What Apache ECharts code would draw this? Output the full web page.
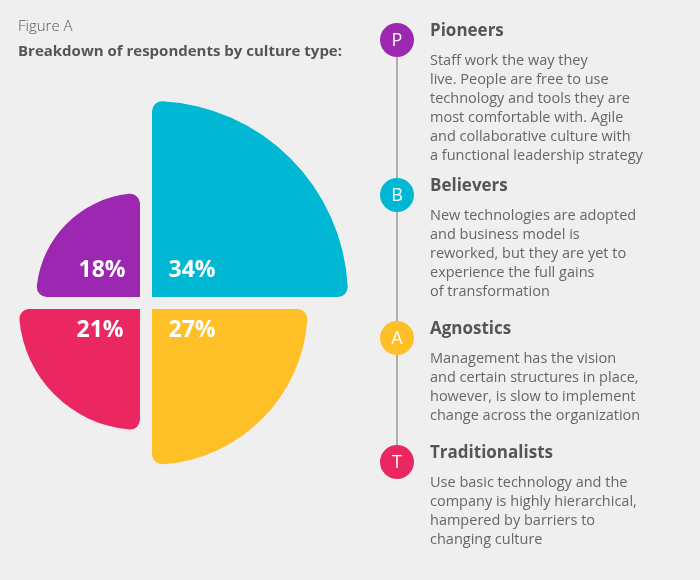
<!DOCTYPE html>
<html><head><meta charset="utf-8">
<script src="https://cdn.jsdelivr.net/npm/echarts@6/dist/echarts.min.js"></script>
<style>html,body{margin:0;background:#efefef}#c{width:700px;height:580px}</style>
</head><body><div id="c"></div>
<script>
const categories = ['Pioneers','Believers','Agnostics','Traditionalists'];
const letters = ['P','B','A','T'];
const values = [34, 27, 21, 18];
const quadColors = ['#00b8d3','#ffbf27','#ea2761','#9c27b0'];
const markerColors = ['#9c27b0','#00b8d3','#ffbf27','#ea2761'];
const descriptions = [
 'Staff work the way they\nlive. People are free to use\ntechnology and tools they are\nmost comfortable with. Agile\nand collaborative culture with\na functional leadership strategy',
 'New technologies are adopted\nand business model is\nreworked, but they are yet to\nexperience the full gains\nof transformation',
 'Management has the vision\nand certain structures in place,\nhowever, is slow to implement\nchange across the organization',
 'Use basic technology and the\ncompany is highly hierarchical,\nhampered by barriers to\nchanging culture'
];
const centers = [[152,297],[152,309],[140,309],[140,297]];
const polar=[],angleAxis=[],radiusAxis=[],series=[];
values.forEach((v,q)=>{
  polar.push({center:centers[q],radius:196});
  angleAxis.push({polarIndex:q,type:'category',data:['a','b','c','d'],startAngle:90,show:false,boundaryGap:true});
  radiusAxis.push({polarIndex:q,type:'value',min:0,max:34,show:false});
  const d=['-','-','-','-']; d[q]=v;
  series.push({type:'bar',coordinateSystem:'polar',polarIndex:q,data:d,barCategoryGap:'0%',barWidth:'100%',
    itemStyle:{color:quadColors[q],borderRadius:10},silent:true});
});
const graphic=[
 {type:'text',left:18,top:19,style:{text:'Figure A',font:'300 15px "Open Sans"',fill:'#555'}},
 {type:'text',left:18,top:44,style:{text:'Breakdown of respondents by culture type:',font:'bold 15px "Open Sans"',fill:'#555'}},
 {type:'line',z:1,shape:{x1:397,y1:40,x2:397,y2:462},style:{stroke:'#999',lineWidth:1.5}}
];
const labelPos=[[192,270],[192,330],[100,330],[102,270]];
values.forEach((v,q)=>{
  graphic.push({type:'text',z:100,x:labelPos[q][0],y:labelPos[q][1],style:{text:v+'%',font:'bold 23px "Open Sans"',fill:'#fff',align:'center',verticalAlign:'middle'}});
});
const tops=[40,195,338,462];
categories.forEach((c,i)=>{
  graphic.push({type:'circle',z:2,shape:{cx:397,cy:tops[i],r:17},style:{fill:markerColors[i]}});
  graphic.push({type:'text',z:3,x:397,y:tops[i]+1,style:{text:letters[i],font:'18px "Open Sans"',fill:'#fff',align:'center',verticalAlign:'middle'}});
  graphic.push({type:'text',x:430,y:tops[i]-9,style:{text:c,font:'bold 17px "Open Sans"',fill:'#555',verticalAlign:'middle'}});
  graphic.push({type:'text',x:430,y:tops[i]+11,style:{text:descriptions[i],font:'14.5px "Open Sans"',fill:'#666',lineHeight:19}});
});
const chart=echarts.init(document.getElementById('c'));
chart.setOption({backgroundColor:'#efefef',animation:false,polar,angleAxis,radiusAxis,series,graphic});
</script></body></html>
